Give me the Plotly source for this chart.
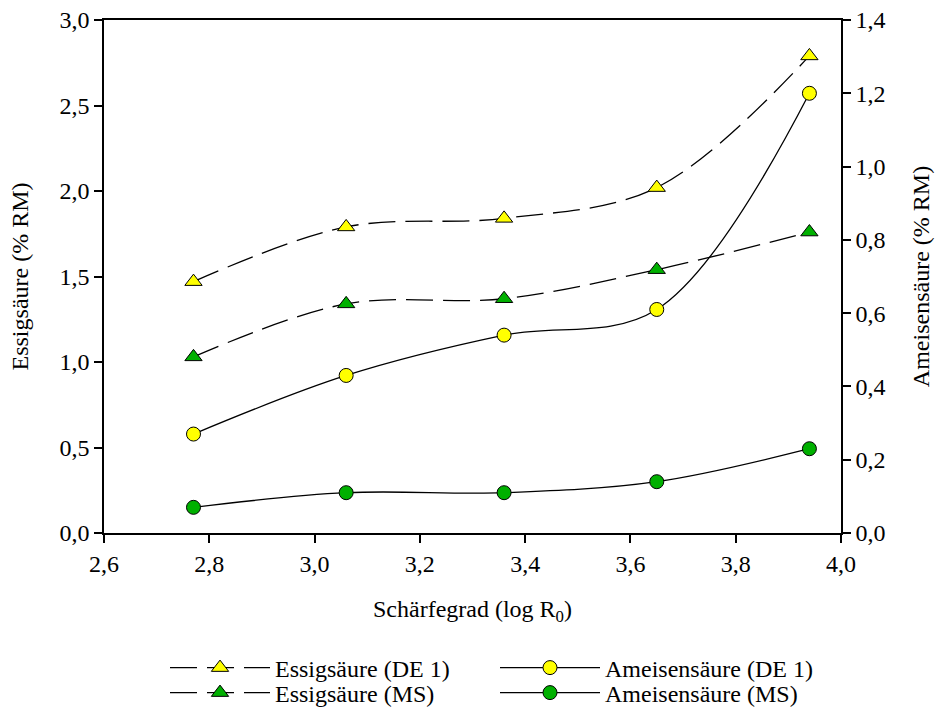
import plotly.graph_objects as go

# Schärfegrad (log R0) der fünf Versuchspunkte
log_r0 = [2.77, 3.06, 3.36, 3.65, 3.94]

# Essigsäure (% RM), linke Achse
essig_de1 = [1.47, 1.79, 1.84, 2.02, 2.79]
essig_ms = [1.03, 1.34, 1.37, 1.54, 1.76]

# Ameisensäure (% RM), rechte Achse
ameisen_de1 = [0.27, 0.43, 0.54, 0.61, 1.20]
ameisen_ms = [0.07, 0.11, 0.11, 0.14, 0.23]

x_ticks = [2.6, 2.8, 3.0, 3.2, 3.4, 3.6, 3.8, 4.0]

YELLOW = "#FFFF00"
GREEN = "#00B000"
FONT = "Liberation Serif, Times New Roman, serif"
SIZE = 24

# plot area in pixels: left 104, right 841, top 20, bottom 533
PLOT_L, PLOT_W, PLOT_B, PLOT_H = 104, 737, 533, 513

fig = go.Figure()

def add_series(y, name, symbol, color, dash, axis, legend):
    fig.add_trace(go.Scatter(
        x=log_r0, y=y, name=name, yaxis=axis, legend=legend,
        mode="lines+markers",
        line=dict(color="black", width=1.3, dash=dash, shape="spline", smoothing=1.0),
        marker=dict(symbol=symbol, size=14 if symbol == "circle" else 15,
                    color=color, line=dict(color="black", width=1)),
    ))

long_dash = "27px,10px"
add_series(essig_de1, "Essigsäure (DE 1)", "triangle-up", YELLOW, long_dash, "y", "legend")
add_series(ameisen_de1, "Ameisensäure (DE 1)", "circle", YELLOW, "solid", "y2", "legend2")
add_series(essig_ms, "Essigsäure (MS)", "triangle-up", GREEN, long_dash, "y", "legend3")
add_series(ameisen_ms, "Ameisensäure (MS)", "circle", GREEN, "solid", "y2", "legend4")

axis_common = dict(
    showgrid=False, zeroline=False, showline=True, linecolor="black", linewidth=1.5,
    ticks="outside", ticklen=8, tickcolor="black", tickwidth=1.5,
    tickfont=dict(family=FONT, size=SIZE, color="black"),
    tickformat=".1f",
)


def legend_at(px_left, px_mid_y):
    return dict(
        orientation="v", xanchor="left", yanchor="middle",
        x=(px_left - PLOT_L) / PLOT_W, y=(PLOT_B - px_mid_y) / PLOT_H,
        font=dict(family=FONT, size=SIZE, color="black"),
        itemwidth=100, tracegroupgap=0,
        bgcolor="rgba(0,0,0,0)", borderwidth=0,
    )


fig.update_layout(
    width=937, height=715,
    margin=dict(l=104, r=96, t=20, b=182, autoexpand=False),
    plot_bgcolor="white", paper_bgcolor="white",
    separators=",.",
    font=dict(family=FONT, size=SIZE, color="black"),
    xaxis=dict(
        range=[2.6, 4.0], tickvals=x_ticks, mirror=True,
        title=dict(text="Schärfegrad (log R<sub>0</sub>)", font=dict(family=FONT, size=SIZE), standoff=25),
        **axis_common,
    ),
    yaxis=dict(
        range=[0, 3.0], dtick=0.5,
        title=dict(text="Essigsäure (% RM)", font=dict(family=FONT, size=SIZE), standoff=24),
        **axis_common,
    ),
    yaxis2=dict(
        range=[0, 1.4], dtick=0.2, overlaying="y", side="right",
        title=dict(text="Ameisensäure (% RM)", font=dict(family=FONT, size=SIZE), standoff=28),
        **axis_common,
    ),
    showlegend=True,
    legend=legend_at(165, 668),
    legend2=legend_at(495, 668),
    legend3=legend_at(165, 693),
    legend4=legend_at(495, 693),
)

fig.write_html("out.html")
